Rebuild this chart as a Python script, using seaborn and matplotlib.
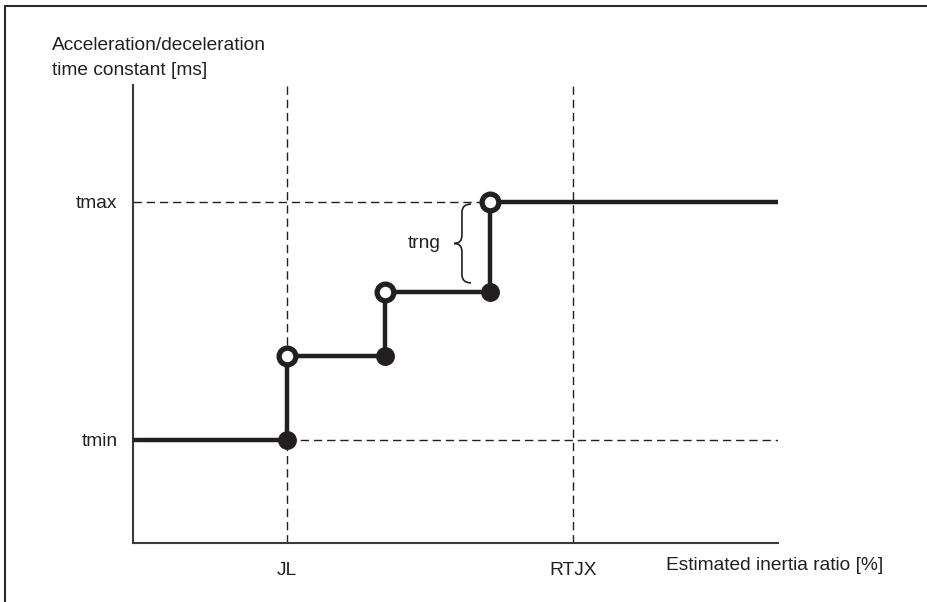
import numpy as np
import matplotlib.pyplot as plt
import seaborn as sns
from matplotlib.path import Path
from matplotlib.patches import PathPatch
from matplotlib.lines import Line2D

# positions along the inertia ratio axis (axis spans 0-100)
jump_x = [23.9, 39.1, 55.3]
x_end = 100
# time constant levels: tmin, two intermediate steps, tmax
levels = [22.5, 40.8, 54.8, 74.5]
tick_x = [23.9, 68.2]
tick_x_labels = ['JL', 'RTJX']
tick_y_labels = ['tmin', 'tmax']

ink = '#231f20'

sns.set_style('white')
plt.rcParams['font.family'] = ['Liberation Sans', 'DejaVu Sans']
plt.rcParams['text.color'] = ink

fig = plt.figure(figsize=(9.28, 6.02), dpi=100)
ax = fig.add_axes([133 / 928, 59 / 602, 645 / 928, 458 / 602])

# step polyline
xs = [0]
ys = [levels[0]]
for i, jx in enumerate(jump_x):
    xs += [jx, jx]
    ys += [levels[i], levels[i + 1]]
xs.append(x_end)
ys.append(levels[-1])

# dashed guide lines
dash = dict(color=ink, lw=1.0, ls=(0, (6, 3.5)), zorder=1)
for tx in tick_x:
    ax.plot([tx, tx], [0, 100], **dash)
ax.plot([0, jump_x[-1]], [levels[-1], levels[-1]], **dash)
ax.plot([jump_x[0], x_end], [levels[0], levels[0]], **dash)

sns.lineplot(x=xs, y=ys, sort=False, estimator=None, color=ink, lw=3.2,
             ax=ax, zorder=3)

# filled dots at the bottom of each jump, open dots at the top
sns.scatterplot(x=jump_x, y=levels[:-1], s=185, color=ink, linewidth=0,
                ax=ax, zorder=5, clip_on=False)
sns.scatterplot(x=jump_x, y=levels[1:], s=145, color='white', edgecolor=ink,
                linewidth=3.8, ax=ax, zorder=6, clip_on=False)

# brace marking trng
bx, btip = 52.4, 49.8
bm = 51.0
top, bot = 74.0, 56.8
mid = (top + bot) / 2
verts = [(bx, top), (bm, top), (bm, top - 1.8),
         (bm, mid + 1.8),
         (bm, mid), (btip, mid),
         (bm, mid), (bm, mid - 1.8),
         (bm, bot + 1.8),
         (bm, bot), (bx, bot)]
codes = [Path.MOVETO, Path.CURVE3, Path.CURVE3,
         Path.LINETO,
         Path.CURVE3, Path.CURVE3,
         Path.CURVE3, Path.CURVE3,
         Path.LINETO,
         Path.CURVE3, Path.CURVE3]
ax.add_patch(PathPatch(Path(verts, codes), fill=False, color=ink, lw=1.2))
ax.text(45.1, 64.4, 'trng', ha='center', va='baseline', fontsize=13.8)

ax.set_xlim(0, 100)
ax.set_ylim(0, 100)
ax.set_xticks(tick_x)
ax.set_xticklabels(tick_x_labels)
ax.set_yticks([levels[0], levels[-1]])
ax.set_yticklabels(tick_y_labels)
ax.tick_params(axis='x', length=0, pad=13.7, labelsize=13.8, labelcolor=ink)
ax.tick_params(axis='y', length=0, pad=11, labelsize=13.8, labelcolor=ink)
ax.set_xlabel('')
ax.set_ylabel('')
sns.despine(ax=ax)
for s in ['left', 'bottom']:
    ax.spines[s].set_color('#3a3a3a')
    ax.spines[s].set_linewidth(1.5)

# axis titles
fig.text(52 / 928, 1 - 50 / 602, 'Acceleration/deceleration', va='baseline',
         fontsize=13.8)
fig.text(52 / 928, 1 - 75 / 602, 'time constant [ms]', va='baseline',
         fontsize=13.8)
fig.text(666 / 928, 1 - 570 / 602, 'Estimated inertia ratio [%]',
         va='baseline', fontsize=13.8)

# frame on top and left edge
fig.add_artist(Line2D([5 / 928, 1], [1 - 6 / 602, 1 - 6 / 602],
                      transform=fig.transFigure, color='#2a2a2a', lw=1.5))
fig.add_artist(Line2D([5 / 928, 5 / 928], [0, 1 - 6 / 602],
                      transform=fig.transFigure, color='#2a2a2a', lw=1.5))

fig.savefig('out.png', dpi=100)
